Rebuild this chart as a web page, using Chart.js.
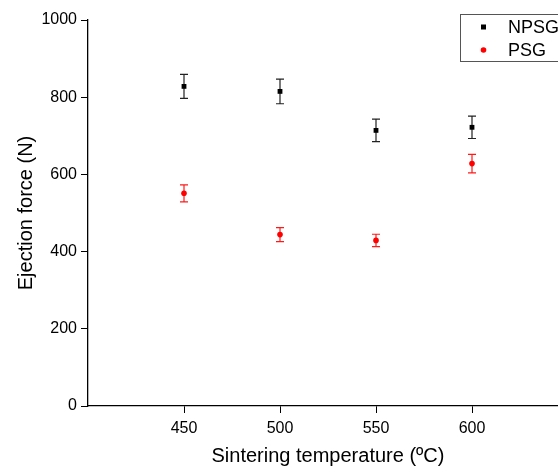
<!DOCTYPE html>
<html>
<head>
<meta charset="utf-8">
<script src="https://cdn.jsdelivr.net/npm/chart.js@4.4.1/dist/chart.umd.min.js"></script>
<style>
  html, body { margin: 0; padding: 0; background: #fff; overflow: hidden; }
  #wrap { width: 600px; height: 470px; }
</style>
</head>
<body>
<div id="wrap"><canvas id="chart" width="600" height="470"></canvas></div>
<script>
const temps = [450, 500, 550, 600];
const npsgForce = [828, 815, 714, 722];
const npsgErr = [31, 32, 29, 29];
const psgForce = [551, 444, 429, 628];
const psgErr = [22, 18, 16, 24];
const xTicks = [450, 500, 550, 600];
const yTicks = [0, 200, 400, 600, 800, 1000];

const FONT = "'Liberation Sans', Arial, sans-serif";

function toPoints(xs, ys, errs) {
  return xs.map((x, i) => ({ x: x, y: ys[i], err: errs[i] }));
}

// vertical error bars drawn through the chart scales
const errorBars = {
  id: 'errorBars',
  beforeDatasetsDraw(chart) {
    const ctx = chart.ctx;
    const xs = chart.scales.x, ys = chart.scales.y;
    chart.data.datasets.forEach(ds => {
      ctx.save();
      ctx.strokeStyle = ds.barColor;
      ctx.lineWidth = 1.2;
      ds.data.forEach(p => {
        const px = xs.getPixelForValue(p.x);
        const top = ys.getPixelForValue(p.y + p.err);
        const bot = ys.getPixelForValue(p.y - p.err);
        ctx.beginPath();
        ctx.moveTo(px, top); ctx.lineTo(px, bot);
        ctx.moveTo(px - 4, top); ctx.lineTo(px + 4, top);
        ctx.moveTo(px - 4, bot); ctx.lineTo(px + 4, bot);
        ctx.stroke();
      });
      ctx.restore();
    });
  }
};

// boxed legend in the top right corner
const boxLegend = {
  id: 'boxLegend',
  afterDraw(chart) {
    const ctx = chart.ctx;
    ctx.save();
    ctx.strokeStyle = '#555';
    ctx.lineWidth = 1;
    ctx.strokeRect(460.5, 14.5, 130, 47);
    ctx.font = '18px ' + FONT;
    ctx.textBaseline = 'middle';
    chart.data.datasets.forEach((ds, i) => {
      const y = 27 + i * 23;
      ctx.fillStyle = ds.backgroundColor;
      if (ds.pointStyle === 'rect') {
        ctx.fillRect(481, y - 2.5, 5, 5);
      } else {
        ctx.beginPath();
        ctx.arc(483.5, y, 2.8, 0, Math.PI * 2);
        ctx.fill();
      }
      ctx.fillStyle = '#000';
      ctx.fillText(ds.label, 508, y + 1);
    });
    ctx.restore();
  }
};

new Chart(document.getElementById('chart'), {
  type: 'scatter',
  data: {
    datasets: [
      {
        label: 'NPSG',
        data: toPoints(temps, npsgForce, npsgErr),
        pointStyle: 'rect',
        pointRadius: 3.4,
        backgroundColor: '#000',
        borderColor: '#000',
        borderWidth: 0,
        barColor: '#222'
      },
      {
        label: 'PSG',
        data: toPoints(temps, psgForce, psgErr),
        pointStyle: 'circle',
        pointRadius: 2.8,
        backgroundColor: '#ff0000',
        borderColor: '#ff0000',
        borderWidth: 0,
        barColor: '#ff1a1a'
      }
    ]
  },
  options: {
    responsive: false,
    animation: false,
    layout: { padding: { top: 20, right: 32, left: 0, bottom: 0 } },
    plugins: {
      legend: { display: false },
      tooltip: { enabled: false }
    },
    scales: {
      x: {
        type: 'linear',
        min: 400,
        max: 650,
        afterBuildTicks: s => { s.ticks = xTicks.map(v => ({ value: v })); },
        afterFit: s => { s.height = 64; },
        grid: { drawOnChartArea: false, drawTicks: true, tickLength: 7, tickColor: '#000', tickWidth: 1 },
        border: { color: '#000', width: 1.3 },
        ticks: { color: '#000', font: { family: FONT, size: 16 }, padding: 6, maxRotation: 0, callback: v => String(v) },
        title: {
          display: true,
          text: 'Sintering temperature (ºC)',
          color: '#000',
          font: { family: FONT, size: 20 },
          padding: { top: 0, bottom: 2 }
        }
      },
      y: {
        min: 0,
        max: 1000,
        afterBuildTicks: s => { s.ticks = yTicks.map(v => ({ value: v })); },
        afterFit: s => { s.width = 88; },
        grid: { drawOnChartArea: false, drawTicks: true, tickLength: 7, tickColor: '#000', tickWidth: 1 },
        border: { color: '#000', width: 1.3 },
        ticks: { color: '#000', font: { family: FONT, size: 16 }, padding: 4, callback: v => String(v) },
        title: {
          display: true,
          text: 'Ejection force (N)',
          color: '#000',
          font: { family: FONT, size: 20 },
          padding: { top: 14, bottom: 0 }
        }
      }
    }
  },
  plugins: [errorBars, boxLegend]
});
</script>
</body>
</html>
